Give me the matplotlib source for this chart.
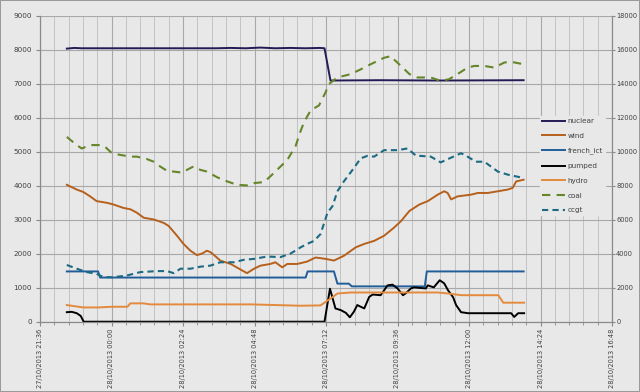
import matplotlib
matplotlib.use("Agg")
import matplotlib.pyplot as plt
import matplotlib.dates as mdates
from datetime import datetime, timedelta

# values (clock time, MW); coal and ccgt use the right axis
nuclear_t = ["22:30", "22:45", "23:00", "23:30", "03:30", "04:00", "04:30", "05:00",
             "05:30", "06:00", "06:30", "07:00", "07:09", "07:21", "09:00", "11:00", "13:50"]
nuclear_mw = [8040, 8060, 8050, 8050, 8050, 8060, 8050, 8070,
              8050, 8060, 8050, 8060, 8050, 7100, 7110, 7100, 7110]

wind_t = ["22:30", "22:50", "23:03", "23:17", "23:30", "23:51", "00:04", "00:24", "00:38",
          "00:51", "01:05", "01:25", "01:45", "01:55", "02:12", "02:25", "02:39", "02:52",
          "03:03", "03:12", "03:19", "03:26", "03:39", "04:00", "04:23", "04:33", "04:47",
          "05:00", "05:20", "05:30", "05:44", "05:54", "06:14", "06:34", "06:51", "07:11",
          "07:28", "07:48", "08:12", "08:29", "08:49", "09:09", "09:29", "09:43", "10:00",
          "10:20", "10:37", "10:57", "11:10", "11:17", "11:24", "11:37", "12:04", "12:18",
          "12:38", "12:58", "13:18", "13:28", "13:35", "13:50"]
wind_mw = [4030, 3890, 3820, 3690, 3550, 3500, 3450, 3350, 3310,
           3210, 3060, 3010, 2910, 2820, 2530, 2290, 2090, 1960,
           2010, 2090, 2050, 1970, 1800, 1700, 1510, 1430, 1560,
           1650, 1700, 1750, 1600, 1700, 1700, 1770, 1890, 1850,
           1800, 1940, 2190, 2290, 2380, 2530, 2770, 2960, 3260,
           3450, 3550, 3740, 3840, 3790, 3600, 3690, 3740, 3790,
           3790, 3840, 3890, 3940, 4130, 4180]

french_t = ["22:30", "23:33", "23:37", "06:31", "06:35", "07:28", "07:35", "07:58",
            "08:04", "10:31", "10:35", "13:50"]
french_mw = [1480, 1480, 1300, 1300, 1480, 1480, 1120, 1120,
             1040, 1040, 1480, 1480]

pumped_t = ["22:30", "22:40", "22:50", "22:58", "23:04", "07:09", "07:20", "07:31",
            "07:42", "07:52", "08:00", "08:08", "08:15", "08:29", "08:39", "08:46",
            "09:02", "09:16", "09:26", "09:36", "09:47", "09:53", "10:03", "10:09",
            "10:33", "10:37", "10:49", "11:01", "11:10", "11:18", "11:28", "11:34",
            "11:44", "11:58", "13:25", "13:31", "13:39", "13:51"]
pumped_mw = [280, 290, 250, 170, 0, 0, 970, 390,
             340, 260, 130, 290, 490, 390, 730, 800,
             780, 1070, 1090, 980, 780, 840, 980, 1010,
             980, 1070, 1010, 1220, 1130, 920, 720, 490,
             280, 250, 250, 140, 250, 250]

hydro_t = ["22:30", "23:03", "23:33", "00:01", "00:32", "00:38", "01:04", "01:18",
           "04:40", "06:21", "07:01", "07:21", "07:35", "08:02", "10:57", "11:18",
           "11:44", "12:59", "13:09", "13:51"]
hydro_mw = [490, 420, 420, 440, 440, 540, 540, 510,
            510, 470, 480, 680, 830, 860, 860, 830,
            780, 780, 560, 560]

coal_t = ["22:30", "22:50", "23:00", "23:17", "23:37", "23:47", "00:01", "00:18", "00:38",
          "00:51", "01:11", "01:25", "01:38", "01:52", "02:05", "02:22", "02:32", "02:45",
          "02:59", "03:12", "03:33", "03:53", "04:13", "04:36", "04:47", "05:07", "05:20",
          "05:37", "05:54", "06:11", "06:21", "06:28", "06:41", "06:58", "07:11", "07:18",
          "07:35", "08:02", "08:22", "08:42", "09:09", "09:23", "09:29", "09:43", "10:00",
          "10:16", "10:43", "11:03", "11:20", "11:37", "11:57", "12:11", "12:31", "12:51",
          "13:11", "13:25", "13:50"]
coal_mw = [10880, 10400, 10200, 10400, 10400, 10300, 9920, 9820, 9720,
           9720, 9580, 9420, 9140, 8880, 8840, 8780, 8940, 9140,
           8940, 8840, 8500, 8260, 8060, 8020, 8160, 8220, 8560,
           9040, 9520, 10360, 11240, 11760, 12440, 12740, 13500, 14000,
           14380, 14580, 14860, 15160, 15540, 15640, 15440, 15060, 14580,
           14380, 14380, 14180, 14280, 14580, 14960, 15060, 15060, 14960,
           15260, 15300, 15160]

ccgt_t = ["22:30", "22:50", "23:10", "23:30", "23:44", "00:04", "00:31", "00:58", "01:32",
          "01:52", "02:05", "02:19", "02:39", "02:59", "03:19", "03:39", "04:06", "04:26",
          "04:47", "05:14", "05:40", "06:01", "06:21", "06:34", "06:48", "07:01", "07:15",
          "07:25", "07:35", "07:48", "08:08", "08:22", "08:35", "08:49", "09:09", "09:36",
          "09:56", "10:13", "10:43", "11:03", "11:24", "11:44", "11:57", "12:14", "12:31",
          "12:58", "13:18", "13:50"]
ccgt_mw = [3340, 3120, 2920, 2820, 2620, 2620, 2720, 2920, 2980,
           2980, 2860, 3120, 3120, 3240, 3300, 3500, 3500, 3640,
           3700, 3840, 3800, 4020, 4380, 4580, 4760, 5160, 6420,
           6800, 7680, 8260, 9040, 9620, 9760, 9720, 10100, 10100,
           10200, 9780, 9720, 9380, 9660, 9920, 9720, 9420, 9420,
           8840, 8660, 8460]


def to_dt(hhmm):
    h, m = map(int, hhmm.split(":"))
    day = 27 if h >= 20 else 28
    return datetime(2013, 10, day, h, m)


def times(lst):
    return [to_dt(s) for s in lst]


bg = "#e8e8e8"
fig = plt.figure(figsize=(6.4, 3.92), dpi=100, facecolor=bg)
fig.patch.set_edgecolor("#9a9a9a")
fig.patch.set_linewidth(1.2)
ax = fig.add_axes([40 / 640, 1 - 321.7 / 392, 572 / 640, 305.7 / 392])
ax.set_facecolor(bg)
ax2 = ax.twinx()
ax2.patch.set_visible(False)

lines = []
lines += ax.plot(times(nuclear_t), nuclear_mw, color="#231b55", lw=1.4, label="nuclear")
lines += ax.plot(times(wind_t), wind_mw, color="#b5601c", lw=1.4, label="wind")
lines += ax.plot(times(french_t), french_mw, color="#215e99", lw=1.4, label="french_ict")
lines += ax.plot(times(pumped_t), pumped_mw, color="black", lw=1.4, label="pumped")
lines += ax.plot(times(hydro_t), hydro_mw, color="#e38a3c", lw=1.4, label="hydro")
lines += ax2.plot(times(coal_t), coal_mw, color="#66862a", lw=1.5, ls=(0, (4, 3)), label="coal")
lines += ax2.plot(times(ccgt_t), ccgt_mw, color="#1c6a84", lw=1.5, ls=(0, (3, 2)), label="ccgt")

start = datetime(2013, 10, 27, 21, 36)
end = datetime(2013, 10, 28, 16, 48)
ax.set_xlim(start, end)
ax.set_ylim(0, 9000)
ax2.set_ylim(0, 18000)

major = [start + timedelta(minutes=144 * k) for k in range(9)]
minor = [start + timedelta(minutes=28.8 * k) for k in range(41)]
ax.set_xticks(major)
ax.set_xticks(minor, minor=True)
ax.xaxis.set_major_formatter(mdates.DateFormatter("%d/%m/%Y %H:%M"))
ax.set_yticks(range(0, 9001, 1000))
ax2.set_yticks(range(0, 18001, 2000))

ax.tick_params(axis="x", which="major", labelsize=4.8, labelrotation=90, length=3,
               color="#888888", labelcolor="#404040", pad=2)
ax.tick_params(axis="x", which="minor", length=2, color="#888888")
ax.tick_params(axis="y", labelsize=5.2, length=3, color="#888888", labelcolor="#404040", pad=3)
ax2.tick_params(axis="y", labelsize=4.8, length=2, color="#888888", labelcolor="#404040", pad=1)
for lbl in ax.get_xticklabels():
    lbl.set_verticalalignment("top")

ax.grid(True, which="major", axis="both", color="#a8a8a8", lw=0.8)
ax.grid(True, which="minor", axis="x", color="#c2c2c2", lw=0.7)
ax.set_axisbelow(True)

for a in (ax, ax2):
    a.spines["top"].set_visible(False)
    for s in ("left", "right", "bottom"):
        a.spines[s].set_color("#8a8a8a")
        a.spines[s].set_linewidth(0.8)

leg = fig.legend(handles=lines, loc="upper left", bbox_to_anchor=(540 / 640, 1 - 116 / 392),
                 fontsize=5.2, frameon=True, facecolor=bg, edgecolor=bg, framealpha=1,
                 handlelength=3.1, handletextpad=0.4, labelspacing=1.2, borderpad=0.3,
                 borderaxespad=0)
for t in leg.get_texts():
    t.set_color("#404040")

fig.savefig("out.png", dpi=100, facecolor=bg)
